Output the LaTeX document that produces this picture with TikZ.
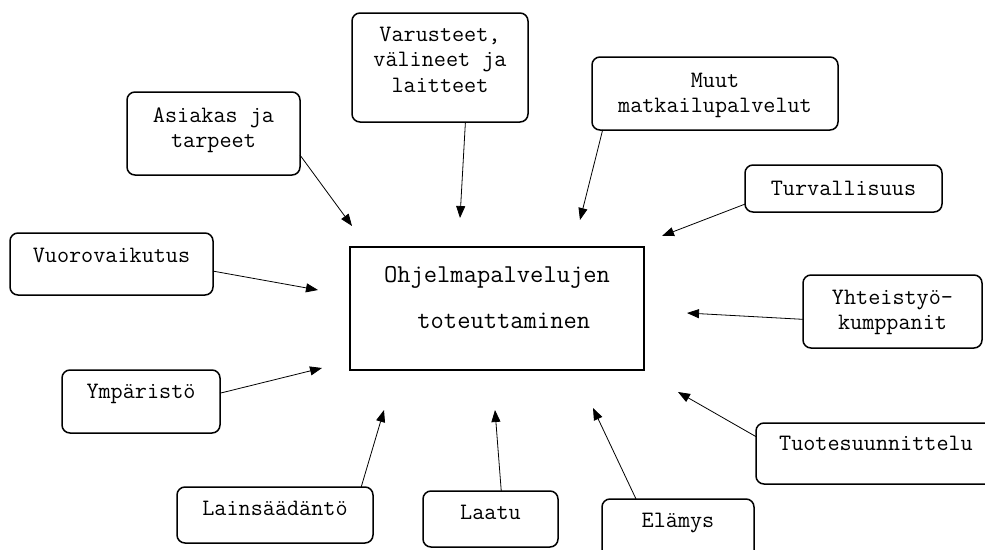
\documentclass[tikz,border=0pt]{standalone}
\usepackage{fontspec}
\usetikzlibrary{arrows.meta}
\newcommand\mybox[4]{\parbox[c][#2pt][t]{#1pt}{\centering\rule{0pt}{#3pt}#4}}
\tikzset{
  box/.style={draw, line width=1.5pt, rounded corners=8pt, inner sep=0pt, outer sep=0pt,
    font=\ttfamily\fontsize{23.5}{25.5}\selectfont},
  mainbox/.style={draw, line width=1.5pt, inner sep=0pt, outer sep=0pt,
    font=\ttfamily\fontsize{25.8}{25}\selectfont},
  arr/.style={line width=0.8pt, -{Triangle[length=12pt,width=9pt]}}
}
\begin{document}
\begin{tikzpicture}[x=1pt,y=-1pt]
\clip (0,0) rectangle (985,549);
\fill[white] (0,0) rectangle (985,549);

\node[mainbox] (main) at (497,308.5) {\parbox[c][123pt][t]{294pt}{\centering\rule{0pt}{35pt}Ohjelmapalvelujen\\[21pt]\hspace*{13.5pt}toteuttaminen}};

\node[box] (asiakas) at (213.5,133.5) {\mybox{173}{83}{30}{Asiakas ja\\tarpeet}};
\node[box] (varusteet) at (440,67.5) {\mybox{176}{109}{28}{Varusteet,\\välineet ja\\laitteet}};
\node[box] (muut) at (715,93.5) {\mybox{246}{73}{30}{Muut\\matkailupalvelut}};
\node[box] (turva) at (843.5,188.5) {\mybox{197}{47}{30}{Turvallisuus}};
\node[box] (vuoro) at (111.5,264) {\mybox{203}{62}{29}{Vuorovaikutus}};
\node[box] (yhteis) at (892.5,311.5) {\mybox{179}{73}{29}{Yhteistyö-\\kumppanit}};
\node[box] (ymp) at (141,401.5) {\mybox{158}{63}{28}{Ympäristö}};
\node[box] (tuote) at (876,453.5) {\mybox{240}{61}{27}{Tuotesuunnittelu}};
\node[box] (lain) at (275,515) {\mybox{196}{56}{28}{Lainsäädäntö}};
\node[box] (laatu) at (490.5,519) {\mybox{135}{56}{28}{Laatu}};
\node[box] (elamys) at (678,529.5) {\mybox{152}{61}{28}{Elämys}};

\coordinate (tA) at (352,226);
\coordinate (tB) at (460,218);
\coordinate (tC) at (580,220);
\coordinate (tD) at (662,236);
\coordinate (tE) at (318,290);
\coordinate (tF) at (687,313);
\coordinate (tG) at (322,368);
\coordinate (tH) at (678,392);
\coordinate (tI) at (384,410);
\coordinate (tJ) at (495,410);
\coordinate (tK) at (593,408);

\draw[arr] (asiakas.-14) -- (tA);
\draw[arr] (varusteet.-65.4) -- (tB);
\draw[arr] (muut.198.2) -- (tC);
\draw[arr] (turva.189.5) -- (tD);
\draw[arr] (vuoro.-4.5) -- (tE);
\draw[arr] (yhteis.185.4) -- (tF);
\draw[arr] (ymp.6.9) -- (tG);
\draw[arr] (tuote.172.6) -- (tH);
\draw[arr] (lain.18.6) -- (tI);
\draw[arr] (laatu.69.4) -- (tJ);
\draw[arr] (elamys.144.6) -- (tK);
\end{tikzpicture}
\end{document}
